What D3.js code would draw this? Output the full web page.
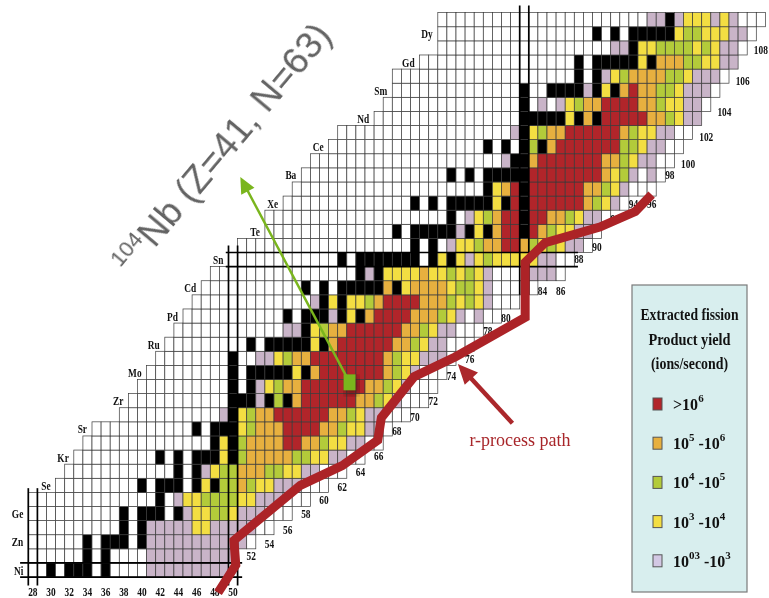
<!DOCTYPE html>
<html>
<head>
<meta charset="utf-8">
<script src="https://d3js.org/d3.v7.min.js"></script>
<style>
body{margin:0;background:#fff;}
svg{display:block;}
</style>
</head>
<body>
<svg id="chart"></svg>
<script>
// one row per proton number Z, cells run-length coded from the first neutron number
// w = no yield, k = stable, p y g o r = yield classes from low to high
const rowZ = [28,29,30,31,32,33,34,35,36,37,38,39,40,41,42,43,44,45,46,47,
              48,49,50,51,52,53,54,55,56,57,58,59,60,61,62,63,64,65,66,67];
const rowFirstN = [28,28,28,28,28,28,31,32,33,34,35,38,39,40,41,42,43,44,45,46,
                   47,48,50,51,54,54,56,57,58,59,61,62,66,67,68,68,71,73,73,73];
const rowCells = [
  "2w k w 3k w k 4w 9p w",
  "6w k w k 4w 10p",
  "6w k w 3k w k 11p w",
  "10w k w k 5p 2y 5p 2w",
  "10w k w 3k w k p 2y 2g y 3p 3w",
  "14w k w p 2y 4g 2y 3p 3w",
  "9w k w 3k w k y k 2g o g 2y 3p 3w",
  "12w k w k p y 2g 3o 2g 2y 2p 3w",
  "9w k w k w 3k y k g 5o 2g 2y 2p 2w",
  "14w k y k g 4o 2r 2o g 2y 2p 2w",
  "11w k w 3k y g 3o 4r 2o g 2y 2p w",
  "11w p k y g 2o 6r 2o g y 2p 3w",
  "11w 3k p k g k o 6r 2o g y p 3w",
  "10w k w k p y g 2o 7r 2o g y p 3w",
  "9w k w 5k y k o 7r o g y p 3w",
  "8w k 2w 2p y g 2o 8r o g 2y 3p w",
  "9w k w 5k y k o 6r 2o g y 2p 3w",
  "12w 2p k y g 2o 6r 2o g y 2p 3w",
  "11w k w 3k p k y k o 4r 3o g y p w p 2w",
  "13w p k y k 2y g o 4r 3o g y g y p 3w",
  "11w k w k w 5k o k y 4o y 2g y p 5w",
  "16w k p k 4y o 2y g y g y p 4w 3p w",
  "12w k w 7k w k y k y p y g 5y 2p 2w",
  "19w k w k w p 2y g 2o 2r o g y g y 2p w",
  "14w k w 5k p k y k o 2r k r o g 2y 2p w",
  "20w k w p y g o 2r k 2r 2o g y 2p w",
  "14w k w k w 5k y k r k 6r o g y p w",
  "21w k y o r k 6r 2o g y p 3w",
  "16w k w k w 5k 8r o y g p w p w",
  "21w p 2k o 7r 2o g y 2p 2w",
  "17w k w k w k g k o 7r 2g y 2p 2w",
  "19w p k y g 2o 6r o g 2y 2p 2w",
  "16w 5k y k o k 5r 2o g y 2p",
  "15w k w p w p y g 2o 4r 2o g 2y 2p w",
  "14w k 2w 4k p k y k o r 2o 2g y 3p w",
  "20w k w k p y g 4o 2g y 3p w",
  "17w k w 5k y k 3o 2g 2y 2p",
  "19w 2p k 2y 4g y g y 2p w",
  "17w k w k w 5k y 2g 3y 2p w",
  "23w 2p k p 3y p y p 3w"
];

const elementZ = [28,30,32,34,36,38,40,42,44,46,48,50,52,54,56,58,60,62,64,66];
const elementName = ["Ni","Zn","Ge","Se","Kr","Sr","Zr","Mo","Ru","Pd","Cd","Sn","Te","Xe","Ba","Ce","Nd","Sm","Gd","Dy"];

const axisN = [28,30,32,34,36,38,40,42,44,46,48,50];

// neutron numbers written along the neutron-rich edge, with the row height they sit at
const edgeN = [52,54,56,58,60,62,64,66,68,70,72,74,76,78,80,84,86,88,90,92,94,96,98,100,102,104,106,108];
const edgeZ = [29.0,29.9,30.9,32.0,33.0,33.9,35.0,36.1,37.9,38.9,40.0,41.8,43.0,45.0,45.9,47.8,47.8,50.1,50.9,52.9,54.0,54.0,56.0,56.8,58.7,60.5,62.7,64.9];

// r-process path (N, Z)
const pathN = [48.35,50.3,50.1,57.4,62.0,65.9,66.3,69.9,74.4,82.1,82.1,84.3,90.3,94.2,96.0];
const pathZ = [26.4,28.35,30.1,34.0,35.4,37.2,38.8,41.7,43.1,45.9,49.8,51.2,52.3,53.4,54.6];

// closed shells drawn as double lines
const magicN = [28,50,82];
const magicNFromZ = [33.8,51.0,68.0];
const magicNToZ = [26.9,26.9,47.5];
const magicZ = [28,50];
const magicZFromN = [26.6,49.2];
const magicZToN = [51.0,87.9];

const markerN = 62.8, markerZ = 41.3;
const markerTipN = 50.8, markerTipZ = 55.85;
const rArrowFromN = 80.7, rArrowFromZ = 38.4;
const rArrowTipN = 74.7, rArrowTipZ = 42.6;

const legendKeys = ["r","o","g","y","p"];
const legendParts = [
  [">10","6"],
  ["10","5"," -10","6"],
  ["10","4"," -10","5"],
  ["10","3"," -10","4"],
  ["10","03"," -10","3"]
];
const legendTitle = ["Extracted fission","Product yield","(ions/second)"];

const cellColor = {w:"#ffffff", k:"#000000", p:"#c9b4c8", y:"#f3de42", g:"#b3cb3a", o:"#e7b03f", r:"#b1252a"};
const legendColor = {r:"#b1252a", o:"#e7b03f", g:"#b3cb3a", y:"#f3de42", p:"#d3c8e4"};

const W = 769, H = 598;
const svg = d3.select("#chart").attr("width", W).attr("height", H);
svg.append("rect").attr("width", W).attr("height", H).attr("fill", "#fff");

const x = d3.scaleLinear().domain([28, 108]).range([32.85, 760.85]);
const y = d3.scaleLinear().domain([28, 67]).range([570, 19.7]);
const cw = x(1) - x(0);
const ch = y(0) - y(1);

function expand(code){
    var out = [];
    code.split(" ").forEach(function(t){
        var m = t.match(/^(\d*)([a-z])$/);
        var n = m[1] ? +m[1] : 1;
        for (var i = 0; i < n; i++) out.push(m[2]);
    });
    return out;
}

var cells = [];
rowZ.forEach(function(z, i){
    expand(rowCells[i]).forEach(function(c, j){
        cells.push({z: z, n: rowFirstN[i] + j, c: c});
    });
});

svg.append("g").selectAll("rect").data(cells).join("rect")
    .attr("x", d => x(d.n - 0.5))
    .attr("y", d => y(d.z + 0.5))
    .attr("width", cw)
    .attr("height", ch)
    .attr("fill", d => cellColor[d.c])
    .attr("stroke", "#3a3a3a")
    .attr("stroke-width", 0.7);

// double lines of the magic numbers
var magic = svg.append("g").attr("stroke", "#000").attr("stroke-width", 1.7);
magicN.forEach(function(n, i){
    [-0.5, 0.5].forEach(function(o){
        magic.append("line")
            .attr("x1", x(n + o)).attr("x2", x(n + o))
            .attr("y1", y(magicNFromZ[i])).attr("y2", y(magicNToZ[i]));
    });
});
magicZ.forEach(function(z, i){
    [-0.5, 0.5].forEach(function(o){
        magic.append("line")
            .attr("y1", y(z + o)).attr("y2", y(z + o))
            .attr("x1", x(magicZFromN[i])).attr("x2", x(magicZToN[i]));
    });
});

const serif = "'Liberation Serif','Times New Roman',serif";
const squeeze = 0.75;

var defs = svg.append("defs");
defs.append("filter").attr("id", "gray")
    .append("feColorMatrix").attr("type", "saturate").attr("values", 0);
defs.append("filter").attr("id", "blur")
    .append("feGaussianBlur").attr("stdDeviation", 3);

// element symbols at the start of their rows, neutron numbers below and along the edge
var labels = svg.append("g")
    .attr("filter", "url(#gray)")
    .attr("font-family", serif)
    .attr("font-weight", "bold")
    .attr("font-size", 12.5)
    .attr("fill", "#111");
elementZ.forEach(function(z, i){
    var first = rowFirstN[rowZ.indexOf(z)];
    labels.append("text")
        .attr("transform", "translate(" + (x(first - 0.5) - 5) + "," + (y(z) + 4.5) + ") scale(" + squeeze + ",1)")
        .attr("text-anchor", "end")
        .text(elementName[i]);
});
axisN.forEach(function(n){
    labels.append("text")
        .attr("transform", "translate(" + x(n) + "," + (y(26.5) + 5) + ") scale(" + squeeze + ",1)")
        .attr("text-anchor", "middle")
        .text(n);
});
edgeN.forEach(function(n, i){
    labels.append("text")
        .attr("transform", "translate(" + x(n) + "," + (y(edgeZ[i]) + 4.5) + ") scale(" + squeeze + ",1)")
        .attr("text-anchor", "middle")
        .text(n);
});

// r-process path
var pathPts = pathN.map((n, i) => [n, pathZ[i]]);
svg.append("path")
    .attr("d", d3.line().x(d => x(d[0])).y(d => y(d[1]))(pathPts))
    .attr("fill", "none")
    .attr("stroke", "#ac2327")
    .attr("stroke-width", 9)
    .attr("stroke-linejoin", "miter");

function arrow(g, x1, y1, x2, y2, len, half, color, width){
    var a = Math.atan2(y2 - y1, x2 - x1);
    var bx = x2 - len * Math.cos(a), by = y2 - len * Math.sin(a);
    g.append("line")
        .attr("x1", x1).attr("y1", y1).attr("x2", bx + Math.cos(a)).attr("y2", by + Math.sin(a))
        .attr("stroke", color).attr("stroke-width", width);
    g.append("path")
        .attr("d", "M" + x2 + "," + y2 +
            "L" + (bx - half * Math.sin(a)) + "," + (by + half * Math.cos(a)) +
            "L" + (bx + half * Math.sin(a)) + "," + (by - half * Math.cos(a)) + "Z")
        .attr("fill", color);
}

// 104Nb marker and its arrow
var ann = svg.append("g");
ann.append("rect")
    .attr("x", x(markerN) - 5).attr("y", y(markerZ) - 6)
    .attr("width", 14).attr("height", 18)
    .attr("fill", "#3a1010").attr("opacity", 0.55)
    .attr("filter", "url(#blur)");
arrow(ann, x(markerN), y(markerZ), x(markerTipN), y(markerTipZ), 16, 7.5, "#7ab51d", 2.5);
ann.append("rect")
    .attr("x", x(markerN) - 6).attr("y", y(markerZ) - 8)
    .attr("width", 12).attr("height", 16)
    .attr("fill", "#7ab51d");

ann.append("text")
    .attr("transform", "translate(131,277) rotate(-50)")
    .attr("font-family", "'Liberation Sans',Arial,sans-serif")
    .attr("font-size", 37)
    .attr("fill", "#636363")
    .call(function(t){
        t.append("tspan").attr("font-size", 22).attr("dy", -14).text("104");
        t.append("tspan").attr("dy", 14).text("Nb (Z=41, N=63)");
    });

arrow(ann, x(rArrowFromN), y(rArrowFromZ), x(rArrowTipN), y(rArrowTipZ), 20, 9, "#ab272b", 4.5);
ann.append("text")
    .attr("x", 520).attr("y", 446)
    .attr("text-anchor", "middle")
    .attr("font-family", serif)
    .attr("font-size", 18)
    .attr("fill", "#a8262a")
    .text("r-process path");

// legend
var lg = svg.append("g").attr("font-family", serif).attr("font-weight", "bold").attr("fill", "#111");
lg.append("rect")
    .attr("x", 632).attr("y", 285).attr("width", 115).attr("height", 307)
    .attr("fill", "#d8eeee").attr("stroke", "#7a7a7a").attr("stroke-width", 1.2);
var lgText = lg.append("g").attr("filter", "url(#gray)");
var titleLen = [98, 82, 77];
legendTitle.forEach(function(s, i){
    lgText.append("text")
        .attr("x", 689.5 - titleLen[i] / 2).attr("y", 320 + i * 24.5)
        .attr("font-size", 16)
        .attr("textLength", titleLen[i])
        .attr("lengthAdjust", "spacingAndGlyphs")
        .text(s);
});
legendKeys.forEach(function(k, i){
    var cy = 404 + i * 39.2;
    lg.append("rect")
        .attr("x", 653).attr("y", cy - 6).attr("width", 9).attr("height", 12)
        .attr("fill", legendColor[k]).attr("stroke", "#555").attr("stroke-width", 1);
    var t = lgText.append("text").attr("x", 673).attr("y", cy + 6).attr("font-size", 16);
    legendParts[i].forEach(function(part, j){
        if (j % 2 == 1) {
            t.append("tspan").attr("font-size", 11).attr("dy", -8).text(part);
        } else {
            t.append("tspan").attr("dy", j == 0 ? 0 : 8).text(part);
        }
    });
});
</script>
</body>
</html>
